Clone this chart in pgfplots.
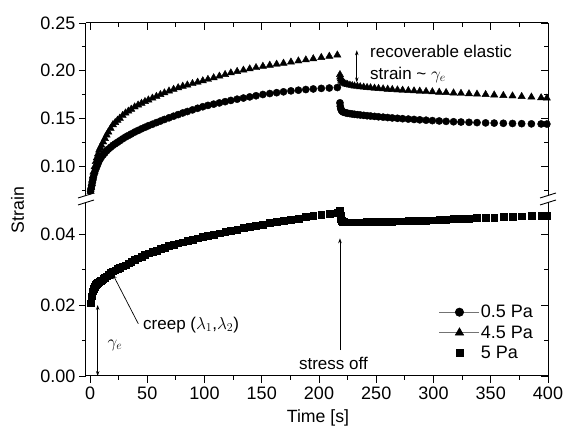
\documentclass[border=0pt]{standalone}
\usepackage{fontspec}
\setmainfont{Liberation Sans}
\usepackage{pgfplots}
\pgfplotsset{compat=1.18}
\usepackage{pgfplotstable}
\usetikzlibrary{arrows.meta}

\pgfplotstableread{
t c r
0.5 0.0740 0.0740
1 0.0770 0.0780
1.5 0.0800 0.0820
2 0.0830 0.0860
2.5 0.0860 0.0900
3 0.0890 0.0940
4 0.0930 0.0995
5 0.0970 0.1050
6 0.1000 0.1090
7 0.1030 0.1130
8 0.1060 0.1170
9 0.1080 0.1195
10 0.1100 0.1220
11.5 0.1121 0.1256
13 0.1142 0.1292
14.5 0.1163 0.1328
16 0.1180 0.1359
18 0.1200 0.1398
20 0.1220 0.1436
22 0.1236 0.1459
24 0.1252 0.1482
26 0.1268 0.1504
28.5 0.1288 0.1533
31 0.1307 0.1558
33.5 0.1323 0.1578
36 0.1339 0.1598
39 0.1359 0.1622
42 0.1376 0.1642
45 0.1393 0.1660
48 0.1409 0.1678
51 0.1425 0.1695
54.5 0.1441 0.1714
58 0.1458 0.1732
61.5 0.1474 0.1751
65 0.1491 0.1769
69 0.1508 0.1788
73 0.1525 0.1806
77 0.1542 0.1823
81 0.1559 0.1838
85 0.1574 0.1851
89.5 0.1591 0.1866
94 0.1608 0.1881
98.5 0.1624 0.1895
103 0.1638 0.1910
108 0.1651 0.1927
113 0.1664 0.1944
118 0.1677 0.1961
123 0.1690 0.1978
128.5 0.1703 0.1993
134 0.1715 0.2007
139.5 0.1727 0.2020
145 0.1739 0.2033
151 0.1752 0.2047
157 0.1762 0.2058
163 0.1771 0.2069
169 0.1780 0.2079
175.5 0.1790 0.2091
182 0.1797 0.2103
188.5 0.1804 0.2114
195 0.1810 0.2126
202 0.1816 0.2139
209 0.1820 0.2152
216 0.1825 0.2165
218.3 0.1665 0.1960
218.6 0.1630 0.1935
219 0.1605 0.1915
219.5 0.1590 0.1900
220 0.1578 0.1890
221 0.1570 0.1878
222 0.1565 0.1870
223.5 0.1560 0.1862
225 0.1556 0.1856
227 0.1552 0.1850
229 0.1548 0.1845
231 0.1545 0.1841
233.5 0.1541 0.1837
236 0.1538 0.1833
239 0.1534 0.1829
242 0.1530 0.1825
245 0.1527 0.1822
248.5 0.1523 0.1818
252 0.1519 0.1815
256 0.1515 0.1811
260 0.1511 0.1807
264 0.1507 0.1804
268.5 0.1503 0.1800
273 0.1499 0.1797
278 0.1495 0.1793
283 0.1491 0.1790
288 0.1487 0.1787
293.5 0.1483 0.1784
299 0.1479 0.1780
305 0.1475 0.1776
311 0.1471 0.1772
317.5 0.1467 0.1768
324 0.1464 0.1764
331 0.1461 0.1760
338 0.1458 0.1756
345.5 0.1455 0.1752
353 0.1453 0.1747
361 0.1451 0.1742
369 0.1449 0.1737
377 0.1447 0.1731
385.5 0.1445 0.1725
394 0.1444 0.1718
399 0.1443 0.1714
}\upperdata

\pgfplotstableread{
t s
0.5 0.0205
1 0.0215
1.5 0.0225
2 0.0232
2.5 0.0239
3 0.0245
4 0.0252
5 0.0257
6 0.0260
7 0.0263
8 0.0265
9 0.0268
10 0.0270
11.5 0.0274
13 0.0278
14.5 0.0281
16 0.0285
18 0.0290
20 0.0295
22 0.0298
24 0.0302
26 0.0305
28.5 0.0309
31 0.0312
33.5 0.0318
36 0.0322
39 0.0327
42 0.0332
45 0.0337
48 0.0342
51 0.0346
54.5 0.0350
58 0.0354
61.5 0.0358
65 0.0362
69 0.0366
73 0.0370
77 0.0374
81 0.0377
85 0.0380
89.5 0.0384
94 0.0388
98.5 0.0392
103 0.0395
108 0.0399
113 0.0402
118 0.0406
123 0.0409
128.5 0.0413
134 0.0417
139.5 0.0420
145 0.0424
151 0.0427
157 0.0431
163 0.0434
169 0.0438
175.5 0.0441
182 0.0444
188.5 0.0448
195 0.0451
202 0.0454
209 0.0457
216 0.0460
218.3 0.0466
218.6 0.0452
219 0.0442
219.5 0.0438
220 0.0436
221 0.0435
222 0.0434
223.5 0.0433
225 0.0433
227 0.0433
229 0.0433
231 0.0433
233.5 0.0433
236 0.0433
239 0.0433
242 0.0434
245 0.0434
248.5 0.0434
252 0.0434
256 0.0435
260 0.0435
264 0.0435
268.5 0.0436
273 0.0436
278 0.0437
283 0.0437
288 0.0438
293.5 0.0438
299 0.0439
305 0.0440
311 0.0441
317.5 0.0442
324 0.0443
331 0.0444
338 0.0445
345.5 0.0446
353 0.0447
361 0.0448
369 0.0449
377 0.0450
385.5 0.0451
394 0.0451
399 0.0452
}\lowerdata

\pgfplotsset{
  base/.style={scale only axis, width=462pt, xmin=-3.5, xmax=400,
    xtick={0,50,...,400}, minor x tick num=1,
    major tick length=7pt, minor tick length=4pt,
    every tick/.style={black, line width=0.8pt},
    axis line style={black, line width=1pt},
    ticklabel style={font=\fontsize{18}{21}\selectfont},
    /pgf/number format/assume math mode=true,
    scaled y ticks=false,
    y tick label style={/pgf/number format/fixed, /pgf/number format/fixed zerofill, /pgf/number format/precision=2},
    clip=false},
  lowy/.style={height=177pt, ymin=0, ymax=0.04986, ytick={0,0.02,0.04}, minor ytick={0.01,0.03}},
  upy/.style={height=176pt, ymin=0.0659, ymax=0.25, ytick={0.10,0.15,0.20,0.25}, minor ytick={0.075,0.125,0.175,0.225}},
}
\tikzset{
  arr/.style={line width=0.7pt, -{Stealth[length=5pt,width=3.5pt]}},
  darr/.style={line width=0.7pt, {Stealth[length=5pt,width=3.5pt]}-{Stealth[length=5pt,width=3.5pt]}},
  ann/.style={inner sep=0pt, font=\fontsize{17}{20}\selectfont},
}

\begin{document}
\begin{tikzpicture}
\path[use as bounding box] (-86pt,-62pt) rectangle (480pt,376pt);

% lower main
\begin{axis}[base, lowy, at={(0,0)}, anchor=south west,
  axis x line*=bottom, axis y line*=left, tick align=outside,
  legend image code/.code={\draw[mark repeat=2,mark phase=2,#1] plot coordinates {(0pt,0pt) (20pt,0pt) (40pt,0pt)};},
  legend style={at={(axis description cs:0.764,0.407)}, anchor=north west, draw=none, fill=none,
    font=\fontsize{18}{21}\selectfont, inner sep=0pt, row sep=4.5pt,
    nodes={inner sep=1pt},
    /tikz/every even column/.append style={column sep=5pt}},
  legend cell align=left,
  legend entries={0.5 Pa, 4.5 Pa, 5 Pa}]
\addlegendimage{black!55, line width=0.6pt, mark=*, mark size=4.2pt, mark options={draw=black, fill=black}}
\addlegendimage{black!55, line width=0.6pt, mark=triangle*, mark size=4.8pt, mark options={draw=black, fill=black}}
\addlegendimage{only marks, mark=square*, mark size=3.6pt, mark options={draw=black, fill=black}}
\addplot[only marks, mark=square*, mark size=3.4pt, draw=black, fill=black, forget plot] table[x=t, y=s] {\lowerdata};
\node[ann, anchor=center] at (axis cs:212.6,0.00366) {stress off};
\draw[arr] (axis cs:218.3,0.0073) -- (axis cs:218.3,0.0388);
\node[ann, anchor=west] at (axis cs:46.3,0.01437) {creep ($\lambda_1$,$\lambda_2$)};
\draw[arr] (axis cs:42.2,0.0147) -- (axis cs:19.8,0.0287);
\node[ann, anchor=center] at (axis cs:21.8,0.0087) {$\gamma_e$};
\draw[darr] (axis cs:6.7,0) -- (axis cs:6.7,0.02);
\end{axis}

% lower right mirror
\begin{axis}[base, lowy, at={(0,0)}, anchor=south west,
  axis x line=none, axis y line*=right, tick align=inside, yticklabels={}, xticklabels={}]
\addplot[draw=none] coordinates {(0,0.01)};
\end{axis}

% upper main
\begin{axis}[base, upy, at={(0,177pt)}, anchor=south west,
  axis x line=none, axis y line*=left, tick align=outside, xticklabels={}]
\addplot[only marks, mark=*, mark size=3.6pt, draw=black, fill=black] table[x=t, y=c] {\upperdata};
\addplot[only marks, mark=triangle*, mark size=4.2pt, draw=black, fill=black] table[x=t, y=r] {\upperdata};
\node[ann, anchor=west] at (axis cs:244.5,0.2203) {recoverable elastic};
\node[ann, anchor=west] at (axis cs:244.5,0.196) {strain \textasciitilde\ $\gamma_e$};
\draw[darr] (axis cs:233,0.2215) -- (axis cs:233,0.1879);
\end{axis}

% upper right + top mirror
\begin{axis}[base, upy, at={(0,177pt)}, anchor=south west,
  axis x line*=top, axis y line*=right, tick align=inside, yticklabels={}, xticklabels={}]
\addplot[draw=none] coordinates {(0,0.1)};
\end{axis}

% y and x labels
\node[rotate=90, font=\fontsize{17.7}{21}\selectfont] at (-68.5pt,166pt) {Strain};
\node[font=\fontsize{17.7}{21}\selectfont] at (232pt,-42pt) {Time [s]};

% axis breaks
\foreach \xx in {0pt,462pt} {
  \fill[white] ([xshift=-8pt]\xx,171.5pt) -- ([xshift=8pt]\xx,176.5pt) -- ([xshift=8pt]\xx,182.5pt) -- ([xshift=-8pt]\xx,177.5pt) -- cycle;
  \draw[line width=0.9pt] ([xshift=-8pt]\xx,171pt) -- ([xshift=8pt]\xx,176pt);
  \draw[line width=0.9pt] ([xshift=-8pt]\xx,178pt) -- ([xshift=8pt]\xx,183pt);
}
\end{tikzpicture}
\end{document}
